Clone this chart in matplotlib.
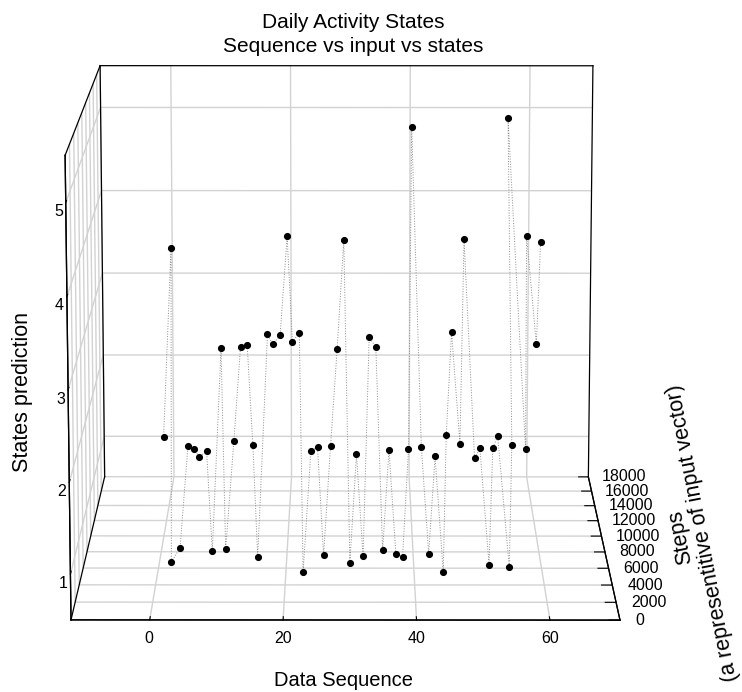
import matplotlib
matplotlib.use('Agg')
import matplotlib.pyplot as plt
import numpy as np
from mpl_toolkits.mplot3d import proj3d

# ---- data ----
seq = list(range(1, 61))
states = [2, 4, 1, 1, 2, 2, 2, 2, 1, 3,
          1, 2, 3, 3, 2, 1, 3, 3, 3, 4,
          3, 3, 1, 2, 2, 1, 2, 3, 4, 1,
          2, 1, 3, 3, 1, 2, 1, 1, 2, 5,
          2, 1, 2, 1, 2, 3, 2, 4, 2, 2,
          1, 2, 2, 1, 2, 5, 2, 4, 3, 4]
steps = [5850, 7690, 1490, 3060, 4750, 4260, 3290, 3990, 2690, 5960,
         2940, 5360, 6150, 6400, 4880, 2030, 8010, 6480, 7900, 9720,
         6920, 8240, 250, 4030, 4560, 2230, 4660, 5750, 8980, 1330,
         3630, 2110, 7610, 6100, 2850, 4220, 2440, 2030, 4260, 14020,
         4560, 2410, 3370, 250, 6160, 8340, 5020, 9190, 3100, 4390,
         1120, 4520, 6030, 830, 4920, 15820, 4260, 9790, 6540, 8710]

x_ticks = [0, 20, 40, 60]
y_ticks = list(range(0, 18001, 2000))
z_ticks = [1, 2, 3, 4, 5]
xlim = (-11.8, 70.5)
ylim = (0, 18000)
zlim = (0.5, 5.5)

title = "Daily Activity States\nSequence vs input vs states"
xlabel = "Data Sequence"
ylabel = "Steps\n(a representitive of input vector)"
zlabel = "States prediction"

plt.rcParams['font.family'] = ['Liberation Sans', 'DejaVu Sans']

W_PX, H_PX = 742, 692
fig = plt.figure(figsize=(W_PX / 100, H_PX / 100), dpi=100)
fig.patch.set_facecolor('white')
ax = fig.add_axes([0.0, 0.0, 1.0, 1.0], projection='3d',
                  proj_type='persp', focal_length=0.95)
ax.set_facecolor('white')

grid_col = '#d2d2d2'
for axis in (ax.xaxis, ax.yaxis, ax.zaxis):
    axis.set_pane_color((1, 1, 1, 0))
    axis._axinfo['grid'].update(color=grid_col, linewidth=1.0, linestyle='-')
    axis._axinfo['tick'].update(inward_factor=0.0, outward_factor=0.25)
    axis.line.set_color('black')
    axis.line.set_linewidth(0.9)

ax.plot(seq, steps, states, color='#8c8c8c', lw=0.7, ls=':', zorder=1)
ax.scatter(seq, steps, states, color='black', s=17, depthshade=False, zorder=2)

# box frame edges
x0, x1 = xlim
y0, y1 = ylim
z0, z1 = zlim
edge_kw = dict(color='black', lw=0.9, zorder=3)
ax.plot([x0, x1], [y1, y1], [z1, z1], **edge_kw)   # back top
ax.plot([x1, x1], [y1, y1], [z0, z1], **edge_kw)   # back right
ax.plot([x0, x0], [y1, y1], [z0, z1], **edge_kw)   # back left
ax.plot([x0, x0], [y0, y1], [z1, z1], **edge_kw)   # left top
ax.plot([x0, x0], [y0, y0], [z0, z1], **edge_kw)   # left front
ax.plot([x0, x0], [y0, y1], [z0, z0], **edge_kw)   # left bottom
ax.plot([x0, x1], [y0, y0], [z0, z0], **edge_kw)   # front bottom
ax.plot([x1, x1], [y0, y1], [z0, z0], **edge_kw)   # right bottom

ax.set_xlim(xlim)
ax.set_ylim(ylim)
ax.set_zlim(zlim)
ax.set_xticks(x_ticks)
ax.set_yticks(y_ticks)
ax.set_zticks(z_ticks)
ax.set_yticklabels([])
ax.tick_params(labelsize=11.5)
ax.tick_params(axis='x', pad=-2)
ax.tick_params(axis='z', pad=-4)
ax.zaxis.set_ticks_position('lower')

# steps tick labels, written just right of the right floor edge
for yt in y_ticks:
    ax.text(x1 + 2.3, yt, z0, str(yt), ha='left', va='center', fontsize=11.5)

ax.view_init(elev=11.5, azim=-89.9)
ax.set_box_aspect((1, 1.125, 0.857), zoom=1.0)

# ---- fit the square 3D panel so the front floor edge sits where the reference has it ----
fig.canvas.draw()
M = ax.get_proj()


def to_disp(x, y, z):
    xs, ys, _ = proj3d.proj_transform(x, y, z, M)
    return ax.transData.transform((xs, ys))


pos = ax.get_position()
S0 = pos.width * W_PX
c0 = np.array([(pos.x0 + pos.width / 2) * W_PX, (pos.y0 + pos.height / 2) * H_PX])
pL = to_disp(x0, y0, z0)
pR = to_disp(x1, y0, z0)
qL = (pL - c0) / S0
qR = (pR - c0) / S0
tL = np.array([71.0, H_PX - 620.0])
tR = np.array([620.0, H_PX - 620.0])
S = (tR[0] - tL[0]) / (qR[0] - qL[0])
c = (tL + tR) / 2 - S * (qL + qR) / 2
ax.set_position([(c[0] - S / 2) / W_PX, (c[1] - S / 2) / H_PX, S / W_PX, S / H_PX], which='both')

# ---- text ----
fig.text(353 / W_PX, 1 - 13 / H_PX, title, ha='center', va='top', fontsize=15, linespacing=1.3)
fig.text(344 / W_PX, 1 - 680 / H_PX, xlabel, ha='center', va='center', fontsize=14.5)
fig.text(23 / W_PX, 1 - 392 / H_PX, zlabel, ha='center', va='center', fontsize=15.5, rotation=90)
fig.text(692 / W_PX, 1 - 535 / H_PX, ylabel, ha='center', va='center', fontsize=15.5,
         rotation=101, multialignment='center', linespacing=1.1)

fig.savefig('out.png', dpi=100, facecolor='white')
